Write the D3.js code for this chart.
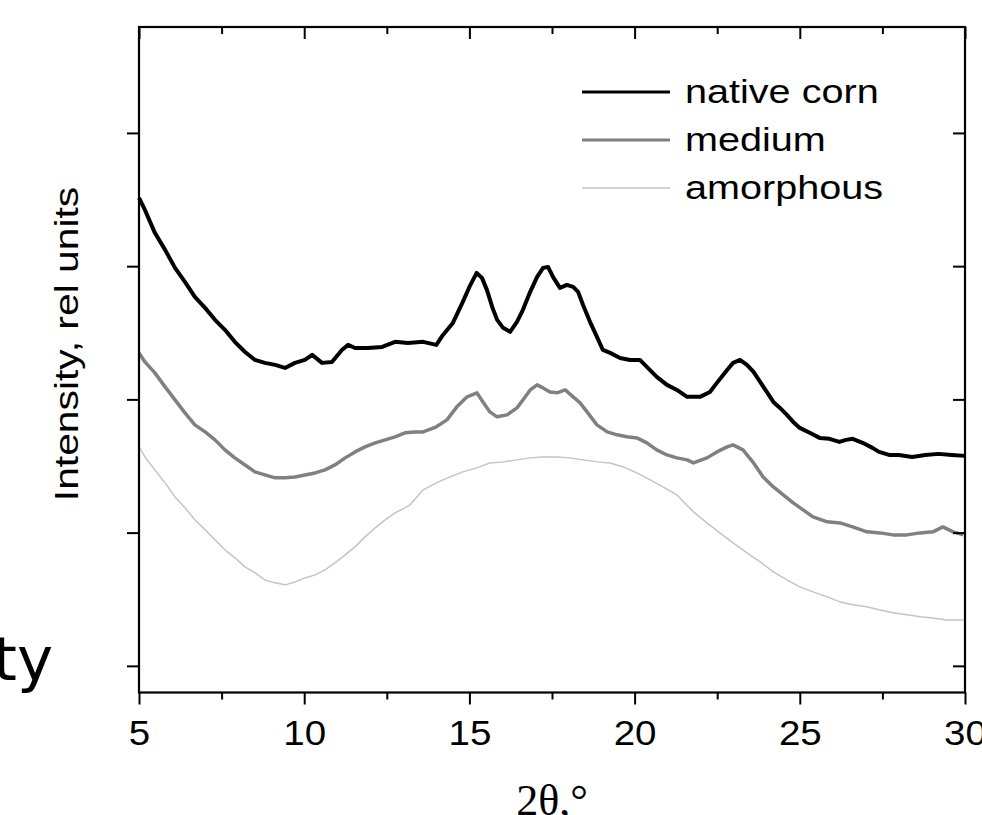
<!DOCTYPE html>
<html><head><meta charset="utf-8">
<script src="https://cdn.jsdelivr.net/npm/d3@7"></script>
<style>html,body{margin:0;padding:0;background:#fff;overflow:hidden}</style>
</head><body>
<svg id="chart" width="982" height="815"></svg>
<script>
// ---- data (2θ in degrees, intensity in rel. units) ----
const seriesNames = ["native corn", "medium", "amorphous"];
const xTickLabels = [5, 10, 15, 20, 25, 30];
const xMinorTicks = [7.5, 12.5, 17.5, 22.5, 27.5];
const yTicks = [0, 1, 2, 3, 4];

const nativeX = [5.00,5.18,5.48,5.79,6.09,6.39,6.69,7.00,7.30,7.60,7.90,8.21,8.51,8.81,9.12,9.42,9.72,10.02,10.24,10.54,10.84,11.14,11.33,11.54,11.93,12.36,12.75,13.14,13.6,14.0,14.2,14.5,14.8,15.0,15.22,15.38,15.53,15.69,15.84,16.02,16.23,16.44,16.62,16.84,17.05,17.23,17.38,17.53,17.74,17.95,18.14,18.29,18.44,18.65,18.86,19.04,19.26,19.56,19.86,20.16,20.37,20.67,20.98,21.28,21.59,21.98,22.28,22.49,22.8,22.98,23.19,23.4,23.6,23.8,24.0,24.2,24.4,24.61,24.8,25.0,25.3,25.6,25.9,26.2,26.4,26.6,26.9,27.2,27.4,27.7,28.0,28.4,28.8,29.2,29.6,30.0];
const nativeY = [3.512,3.422,3.250,3.122,2.987,2.882,2.769,2.687,2.597,2.522,2.432,2.356,2.296,2.274,2.259,2.236,2.274,2.296,2.334,2.274,2.281,2.371,2.409,2.386,2.386,2.394,2.432,2.424,2.432,2.409,2.484,2.574,2.732,2.844,2.949,2.912,2.822,2.694,2.597,2.537,2.507,2.582,2.672,2.807,2.919,2.987,2.994,2.919,2.837,2.859,2.844,2.807,2.709,2.582,2.469,2.371,2.349,2.311,2.296,2.296,2.244,2.169,2.109,2.071,2.019,2.019,2.056,2.124,2.221,2.274,2.296,2.259,2.206,2.131,2.056,1.981,1.936,1.884,1.831,1.786,1.749,1.711,1.704,1.681,1.696,1.704,1.674,1.636,1.606,1.583,1.583,1.568,1.583,1.591,1.583,1.576];

const mediumX = [5.00,5.18,5.48,5.79,6.09,6.39,6.69,7.00,7.30,7.60,7.90,8.21,8.51,8.81,9.12,9.42,9.72,10.02,10.33,10.63,10.93,11.24,11.54,11.84,12.15,12.45,12.75,13.05,13.35,13.6,14.0,14.32,14.62,14.93,15.23,15.41,15.62,15.84,16.14,16.44,16.62,16.84,17.05,17.23,17.44,17.65,17.9,18.14,18.35,18.56,18.86,19.17,19.47,19.77,20.07,20.37,20.67,20.98,21.28,21.59,21.78,22.19,22.49,22.8,22.98,23.28,23.6,23.89,24.2,24.5,24.8,25.1,25.4,25.83,26.22,26.6,27.03,27.43,27.82,28.24,28.64,29.03,29.33,29.64,29.95];
const mediumY = [2.349,2.281,2.199,2.094,1.996,1.899,1.809,1.756,1.696,1.621,1.561,1.508,1.456,1.433,1.411,1.411,1.418,1.433,1.448,1.471,1.508,1.561,1.606,1.644,1.674,1.696,1.719,1.749,1.756,1.756,1.794,1.846,1.944,2.019,2.049,1.981,1.906,1.869,1.884,1.936,1.996,2.071,2.109,2.086,2.056,2.049,2.071,2.019,1.974,1.906,1.809,1.756,1.734,1.719,1.711,1.674,1.621,1.583,1.561,1.546,1.523,1.561,1.606,1.644,1.659,1.621,1.523,1.418,1.343,1.283,1.223,1.171,1.118,1.081,1.073,1.043,1.006,0.998,0.983,0.983,0.998,1.006,1.043,1.006,0.983];

const amorphX = [5.00,5.18,5.48,5.79,6.09,6.39,6.69,7.00,7.30,7.60,7.90,8.21,8.51,8.81,9.12,9.42,9.72,10.02,10.33,10.63,10.93,11.24,11.54,11.84,12.15,12.45,12.75,13.05,13.2,13.6,14.0,14.41,14.8,15.23,15.62,16.02,16.44,16.84,17.23,17.65,18.04,18.44,18.86,19.26,19.65,20.07,20.47,20.86,21.28,21.78,22.19,22.58,22.98,23.4,23.8,24.2,24.61,25.0,25.4,25.83,26.22,26.6,27.03,27.43,27.82,28.24,28.64,29.03,29.45,29.95];
const amorphY = [1.644,1.568,1.471,1.373,1.268,1.186,1.096,1.021,0.946,0.871,0.811,0.743,0.698,0.645,0.623,0.608,0.630,0.660,0.683,0.720,0.773,0.833,0.893,0.968,1.036,1.096,1.148,1.186,1.208,1.321,1.373,1.418,1.456,1.486,1.523,1.531,1.546,1.561,1.568,1.568,1.561,1.546,1.531,1.523,1.493,1.448,1.396,1.343,1.283,1.156,1.073,0.998,0.923,0.848,0.780,0.705,0.645,0.593,0.555,0.518,0.480,0.458,0.443,0.420,0.398,0.383,0.368,0.360,0.345,0.345];

// ---- layout / style ----
const plot = {left: 139, right: 965, top: 27, bottom: 692.5};
const colors = ["#000000", "#808080", "#c4c4c4"];
const widths = [4, 3.5, 1.5];
const legendWidths = [3.2, 2.8, 1.3];
const sansFont = "'Liberation Sans', Arial, Helvetica, sans-serif";

const svg = d3.select("#chart");
const x = d3.scaleLinear().domain([5, 30]).range([plot.left, plot.right]);
const y = d3.scaleLinear().domain([-0.2, 4.795]).range([plot.bottom, plot.top]);

const series = [
  {name: seriesNames[0], xs: nativeX, ys: nativeY},
  {name: seriesNames[1], xs: mediumX, ys: mediumY},
  {name: seriesNames[2], xs: amorphX, ys: amorphY}
];

const line = d3.line().x(d => x(d[0])).y(d => y(d[1]));

for (let i = series.length - 1; i >= 0; i--) {
  const s = series[i];
  const pts = s.xs.map((v, j) => [v, s.ys[j]]);
  svg.append("path").datum(pts)
    .attr("fill", "none").attr("stroke", colors[i])
    .attr("stroke-width", widths[i]).attr("stroke-linejoin", "round")
    .attr("d", line);
}

// ---- axes ----
function styleAxis(g) {
  g.select(".domain").remove();
  g.selectAll(".tick line").attr("stroke", "#000").attr("stroke-width", 2);
}
const gb = svg.append("g").attr("transform", `translate(0,${plot.bottom})`)
  .call(d3.axisBottom(x).tickValues(xTickLabels).tickSize(12).tickFormat(d3.format("d")));
styleAxis(gb);
gb.selectAll(".tick text")
  .attr("y", 52.5).attr("dy", 0)
  .attr("fill", "#000")
  .style("font-family", sansFont).style("font-size", "35px")
  .attr("transform", "scale(1.1,1)");
const gbm = svg.append("g").attr("transform", `translate(0,${plot.bottom})`)
  .call(d3.axisBottom(x).tickValues(xMinorTicks).tickSize(7).tickFormat(""));
styleAxis(gbm);
const gt = svg.append("g").attr("transform", `translate(0,${plot.top})`)
  .call(d3.axisTop(x).tickValues(xTickLabels).tickSize(-12).tickFormat(""));
styleAxis(gt);
const gtm = svg.append("g").attr("transform", `translate(0,${plot.top})`)
  .call(d3.axisTop(x).tickValues(xMinorTicks).tickSize(-7).tickFormat(""));
styleAxis(gtm);
const gl = svg.append("g").attr("transform", `translate(${plot.left},0)`)
  .call(d3.axisLeft(y).tickValues(yTicks).tickSize(12).tickFormat(""));
styleAxis(gl);
const gr = svg.append("g").attr("transform", `translate(${plot.right},0)`)
  .call(d3.axisRight(y).tickValues(yTicks).tickSize(-12).tickFormat(""));
styleAxis(gr);

svg.append("rect")
  .attr("x", plot.left).attr("y", plot.top)
  .attr("width", plot.right - plot.left).attr("height", plot.bottom - plot.top)
  .attr("fill", "none").attr("stroke", "#000").attr("stroke-width", 2.2);

// ---- legend ----
const legendRowsY = [92, 140, 188];
series.forEach((s, i) => {
  const g = svg.append("g").attr("transform", `translate(0,${legendRowsY[i]})`);
  g.append("line").attr("x1", 582).attr("x2", 670).attr("y1", 0).attr("y2", 0)
    .attr("stroke", colors[i]).attr("stroke-width", legendWidths[i]);
  g.append("text").text(s.name)
    .attr("transform", "translate(685,11) scale(1.2,1)")
    .attr("fill", "#000")
    .style("font-family", sansFont).style("font-size", "33px");
});

// ---- axis titles ----
svg.append("text").text("Intensity, rel units")
  .attr("transform", "translate(78,344) rotate(-90) scale(1.2,1)")
  .attr("text-anchor", "middle").attr("fill", "#000")
  .style("font-family", sansFont).style("font-size", "34px");

svg.append("text").text("2θ,°")
  .attr("x", 552).attr("y", 815)
  .attr("text-anchor", "middle").attr("fill", "#000")
  .style("font-family", "'Liberation Serif', 'Times New Roman', serif").style("font-size", "44px");

svg.append("text").text("ty")
  .attr("x", 53).attr("y", 680)
  .attr("text-anchor", "end").attr("fill", "#000")
  .style("font-family", "'DejaVu Sans', Verdana, sans-serif").style("font-size", "61px");
</script>
</body></html>
